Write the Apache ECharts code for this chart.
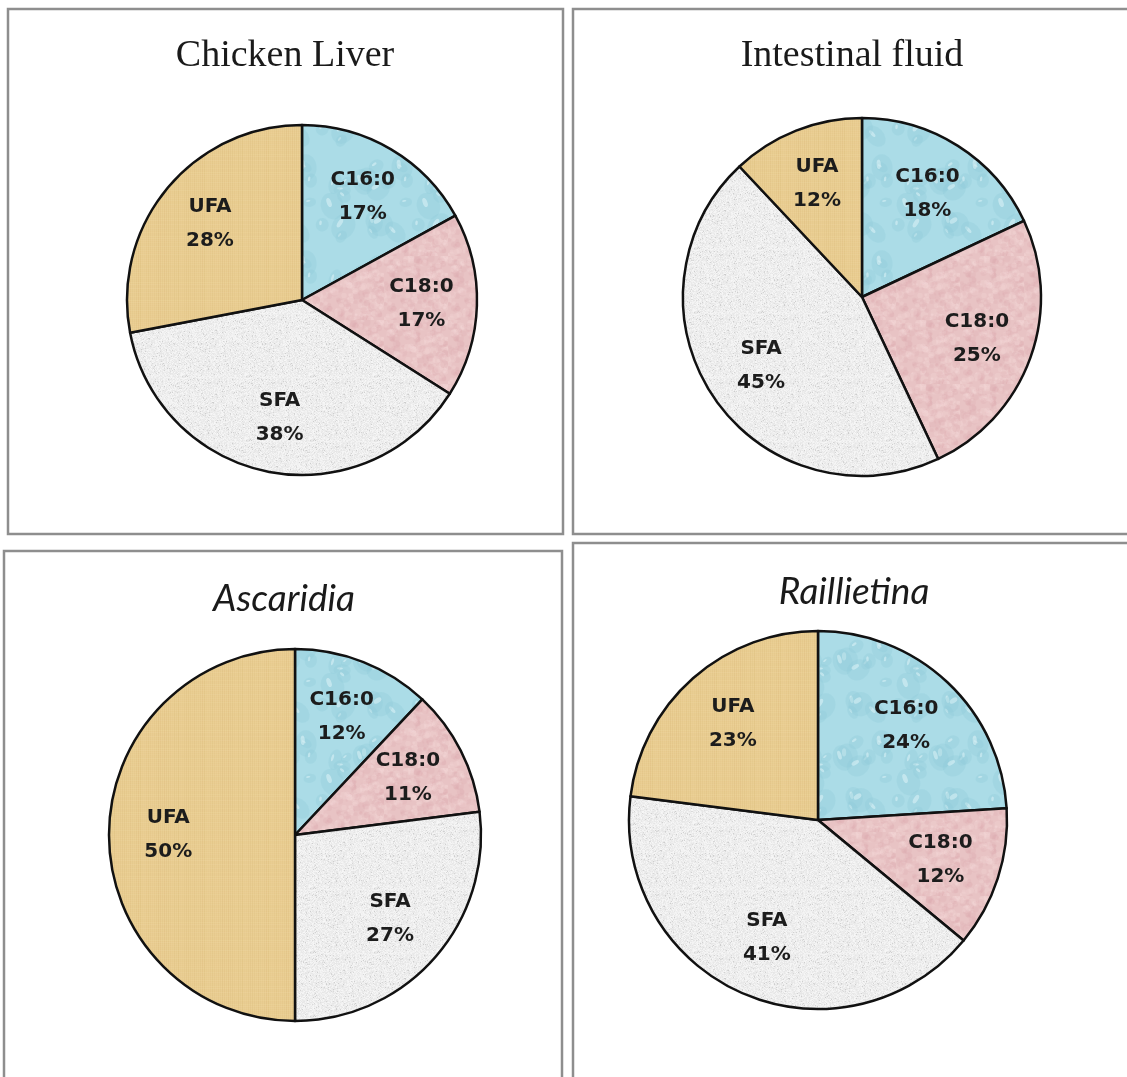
<!DOCTYPE html>
<html>
<head>
<meta charset="utf-8">
<title>Fatty acid composition</title>
<script src="https://cdn.jsdelivr.net/npm/echarts@6/dist/echarts.min.js"></script>
<style>
  html, body { margin: 0; padding: 0; background: #ffffff; }
  #chart { width: 1127px; height: 1077px; }
</style>
</head>
<body>
<div id="chart"></div>
<script>
// Fatty acid fractions (%) per sample
const categories = ['C16:0', 'C18:0', 'SFA', 'UFA'];
const panelTitles = ['Chicken Liver', 'Intestinal fluid', 'Ascaridia', 'Raillietina'];
const chickenLiver = [17, 17, 38, 28];
const intestinalFluid = [18, 25, 45, 12];
const ascaridia = [12, 11, 27, 50];
const raillietina = [24, 12, 41, 23];

// Deterministic hash used for the surface textures of the slices
function h(n) { const s = Math.sin(n * 12.9898 + 78.233) * 43758.5453; return s - Math.floor(s); }

function makeCanvas(w, hgt) { const c = document.createElement('canvas'); c.width = w; c.height = hgt; return c; }

// Light-blue "water droplet" texture
function blueTexture() {
  const c = makeCanvas(96, 96), g = c.getContext('2d');
  g.fillStyle = '#abdce7'; g.fillRect(0, 0, 96, 96);
  for (let i = 0; i < 22; i++) {
    const x = h(i * 3.1) * 96, y = h(i * 7.7 + 1) * 96, rx = 5 + h(i * 1.3) * 9, ry = rx * (0.6 + h(i * 2.9) * 0.4);
    for (const ox of [-96, 0, 96]) for (const oy of [-96, 0, 96]) {
      g.beginPath(); g.ellipse(x + ox, y + oy, rx, ry, h(i) * 3, 0, Math.PI * 2);
      g.fillStyle = 'rgba(140,200,215,0.28)'; g.fill();
      g.beginPath(); g.ellipse(x + ox - rx * 0.25, y + oy - ry * 0.3, rx * 0.35, ry * 0.2, h(i) * 3, 0, Math.PI * 2);
      g.fillStyle = 'rgba(235,250,252,0.45)'; g.fill();
    }
  }
  return c;
}

// Rose parchment texture
function pinkTexture() {
  const c = makeCanvas(64, 64), g = c.getContext('2d');
  g.fillStyle = '#e8c3c4'; g.fillRect(0, 0, 64, 64);
  for (let i = 0; i < 260; i++) {
    const x = h(i * 5.3) * 64, y = h(i * 9.1 + 2) * 64, r = 1 + h(i * 4.4) * 3;
    g.fillStyle = h(i * 6.6) > 0.5 ? 'rgba(215,160,165,0.16)' : 'rgba(250,225,225,0.2)';
    g.beginPath(); g.arc(x, y, r, 0, Math.PI * 2); g.fill();
  }
  return c;
}

// Grey granite texture
function greyTexture() {
  const c = makeCanvas(64, 64), g = c.getContext('2d');
  const img = g.createImageData(64, 64);
  for (let i = 0; i < 64 * 64; i++) {
    const v = 238 + Math.round((h(i * 1.7) - 0.5) * 18) - (h(i * 3.3) > 0.94 ? 24 : 0);
    img.data[i * 4] = v; img.data[i * 4 + 1] = v; img.data[i * 4 + 2] = v; img.data[i * 4 + 3] = 255;
  }
  g.putImageData(img, 0, 0);
  return c;
}

// Tan canvas-weave texture
function tanTexture() {
  const c = makeCanvas(64, 64), g = c.getContext('2d');
  g.fillStyle = '#e9cd91'; g.fillRect(0, 0, 64, 64);
  for (let i = 0; i < 64; i += 2) {
    g.fillStyle = 'rgba(200,160,90,' + (0.05 + h(i * 2.1) * 0.12).toFixed(3) + ')';
    g.fillRect(i, 0, 1, 64);
    g.fillStyle = 'rgba(245,225,180,' + (0.05 + h(i * 4.7) * 0.15).toFixed(3) + ')';
    g.fillRect(0, i, 64, 1);
  }
  return c;
}

const fills = [
  { image: blueTexture(), repeat: 'repeat' },
  { image: pinkTexture(), repeat: 'repeat' },
  { image: greyTexture(), repeat: 'repeat' },
  { image: tanTexture(), repeat: 'repeat' }
];

// Panel geometry: frame, title position/style, pie centre and radius
const panels = [
  { values: chickenLiver, frame: [8, 9, 555, 525], titleX: 285, titleY: 56,
    font: { fontFamily: 'Liberation Serif', fontSize: 38, fontStyle: 'normal' }, center: [302, 300], radius: 175 },
  { values: intestinalFluid, frame: [573, 9, 580, 525], titleX: 852, titleY: 56,
    font: { fontFamily: 'Liberation Serif', fontSize: 38, fontStyle: 'normal' }, center: [862, 297], radius: 179 },
  { values: ascaridia, frame: [4, 551, 558, 560], titleX: 284, titleY: 599,
    font: { fontFamily: 'Lato', fontSize: 37, fontStyle: 'italic' }, center: [295, 835], radius: 186 },
  { values: raillietina, frame: [573, 543, 580, 560], titleX: 854, titleY: 592,
    font: { fontFamily: 'Lato', fontSize: 37, fontStyle: 'italic' }, center: [818, 820], radius: 189 }
];

const chart = echarts.init(document.getElementById('chart'), null, { renderer: 'canvas' });

const graphics = [];
panels.forEach((p, i) => {
  graphics.push({
    type: 'rect', silent: true, z: 0,
    shape: { x: p.frame[0], y: p.frame[1], width: p.frame[2], height: p.frame[3] },
    style: { fill: 'none', stroke: '#8e8e8e', lineWidth: 2.5 }
  });
  graphics.push({
    type: 'text', silent: true, z: 10, x: p.titleX, y: p.titleY,
    style: {
      text: panelTitles[i], fill: '#1a1a1a', align: 'center', verticalAlign: 'middle',
      fontFamily: p.font.fontFamily, fontSize: p.font.fontSize, fontStyle: p.font.fontStyle, fontWeight: 'normal'
    }
  });
});

function pieSeries(p) {
  const cx = p.center[0], cy = p.center[1];
  return {
    type: 'pie',
    center: p.center,
    radius: [0, p.radius],
    startAngle: 90,
    clockwise: true,
    silent: true,
    animation: false,
    avoidLabelOverlap: false,
    data: categories.map((name, k) => ({ name: name, value: p.values[k], itemStyle: { color: fills[k] } })),
    itemStyle: { borderColor: '#111111', borderWidth: 2.5 },
    label: {
      show: true, position: 'inside', formatter: '{b}\n{c}%',
      color: '#1c1c1c', fontFamily: 'DejaVu Sans', fontWeight: 'bold', fontSize: 20, lineHeight: 34
    },
    labelLine: { show: false },
    // push the inside labels further out along each slice's bisector
    labelLayout: function (params) {
      const r = params.labelRect;
      const lx = r.x + r.width / 2, ly = r.y + r.height / 2;
      return { dx: (lx - cx) * 0.32, dy: (ly - cy) * 0.32 };
    },
    emphasis: { disabled: true }
  };
}

chart.setOption({
  animation: false,
  backgroundColor: '#ffffff',
  graphic: graphics,
  series: panels.map(pieSeries)
});
</script>
</body>
</html>
